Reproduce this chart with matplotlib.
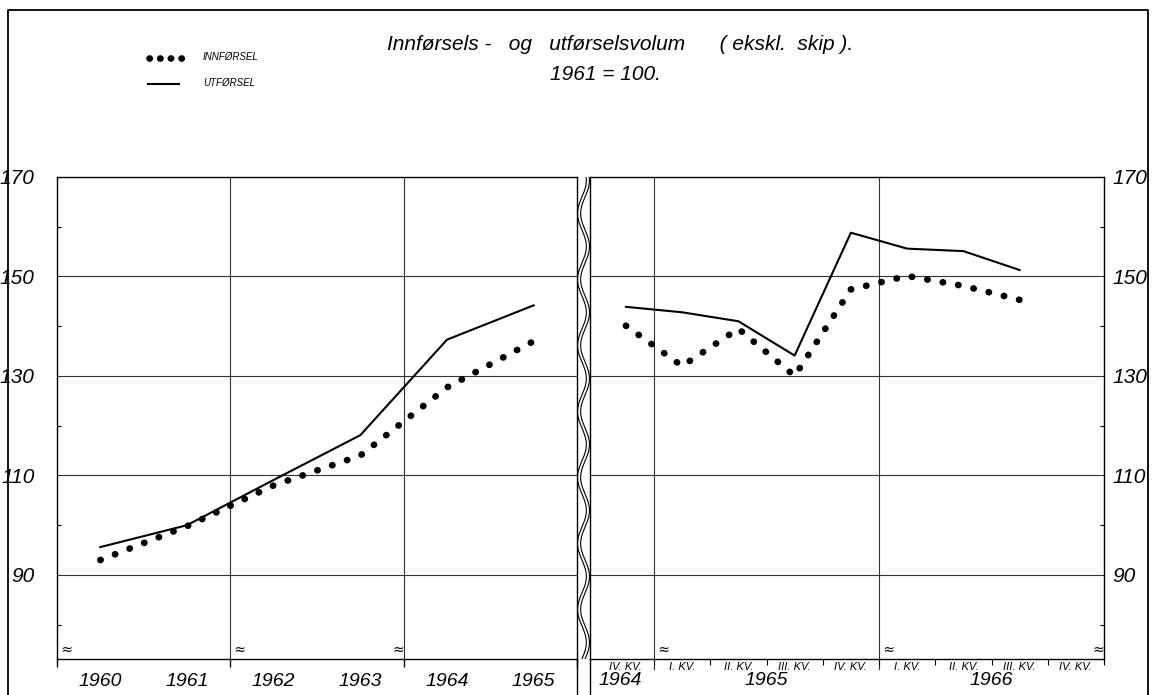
import numpy as np
import matplotlib
matplotlib.use("Agg")
import matplotlib.pyplot as plt
from matplotlib.lines import Line2D

# --- data (volum-indeks, 1961 = 100) ---
aar = [1960, 1961, 1962, 1963, 1964, 1965]
innforsel_aar = [93.0, 99.8, 108.0, 114.0, 127.7, 137.0]
utforsel_aar = [95.6, 100.0, 109.1, 118.1, 137.3, 144.2]

kvartal_labels = ["IV. KV.", "I. KV.", "II. KV.", "III. KV.", "IV. KV.",
                  "I. KV.", "II. KV.", "III. KV.", "IV. KV."]
kvartal_aar = ["1964", "1965", "1966"]
innforsel_kv = [140.1, 132.0, 139.5, 130.0, 147.4, 150.1, 148.1, 145.3]
utforsel_kv = [143.9, 142.8, 141.0, 134.1, 158.8, 155.6, 155.1, 151.3]

y_ticks = [90, 110, 130, 150, 170]

W, H = 1153, 695
FONT = "Liberation Sans"


def fx(px):
    return px / W


def fy(py):
    return 1 - py / H


fig = plt.figure(figsize=(W / 100, H / 100), dpi=100)
fig.patch.set_facecolor("white")

top, bot = 177, 659
ylim = (73.1, 170)
ax1 = fig.add_axes([fx(57), fy(bot), fx(577) - fx(57), fy(top) - fy(bot)])
ax2 = fig.add_axes([fx(590), fy(bot), fx(1104) - fx(590), fy(top) - fy(bot)])
axb = fig.add_axes([fx(577), fy(bot), fx(590) - fx(577), fy(top) - fy(bot)])

# prikket linje: korte streker med runde ender blir til prikker
dot_style = dict(color="black", lw=4.8, linestyle=(0, (0.05, 2.3)),
                 dash_capstyle="round")
line_style = dict(color="black", lw=1.5)
grid_style = dict(color="#333333", lw=0.8, zorder=0)

for ax in (ax1, ax2):
    ax.set_ylim(*ylim)
    for s in ax.spines.values():
        s.set_linewidth(1.0)
    for v in [90, 110, 130, 150]:
        ax.axhline(v, **grid_style)
    ax.set_yticks(y_ticks)
    ax.set_yticks([80, 100, 120, 140, 160], minor=True)

# --- left panel: yearly ---
ax1.set_xlim(1959.5, 1965.5)
for v in [1961.5, 1963.5]:
    ax1.axvline(v, **grid_style)
ax1.plot(aar, utforsel_aar, **line_style)
ax1.plot(aar, innforsel_aar, **dot_style)
ax1.set_xticks(aar)
ax1.set_xticklabels([str(a) for a in aar], fontsize=14, style="italic", family=FONT)
ax1.set_xticks([1959.5, 1961.5, 1963.5, 1965.5], minor=True)
ax1.tick_params(axis="x", which="major", length=0, pad=10)
ax1.tick_params(axis="x", which="minor", length=6, direction="out", width=1)
ax1.set_yticklabels([str(v) for v in y_ticks], fontsize=15, style="italic", family=FONT)
ax1.tick_params(axis="y", which="major", length=0, pad=16)
ax1.tick_params(axis="y", which="minor", length=3, direction="in", width=0.8)
for xv, ha in [(1959.5, "left"), (1961.5, "left"), (1963.5, "right")]:
    ax1.text(xv, 74.9, " \u2248 " if ha == "left" else "\u2248", ha=ha, va="center",
             fontsize=10)

# --- right panel: quarterly ---
q = np.arange(len(innforsel_kv))
ax2.set_xlim(-0.638, 8.5)
for v in [0.5, 4.5]:
    ax2.axvline(v, ymin=-0.02, ymax=1, clip_on=False, **grid_style)
ax2.plot(q, utforsel_kv, **line_style)
ax2.plot(q, innforsel_kv, **dot_style)
ax2.set_xticks(np.arange(len(kvartal_labels)))
ax2.set_xticklabels(kvartal_labels, fontsize=8, style="italic", family=FONT)
ax2.set_xticks(np.arange(0.5, 9, 1.0), minor=True)
ax2.tick_params(axis="x", which="major", length=0, pad=2)
ax2.tick_params(axis="x", which="minor", length=4, direction="out", width=0.8)
ax2.yaxis.tick_right()
ax2.set_yticklabels([str(v) for v in y_ticks], fontsize=15, style="italic", family=FONT)
ax2.tick_params(axis="y", which="major", length=0, pad=6)
ax2.tick_params(axis="y", which="minor", length=3, direction="in", width=0.8,
                right=True, left=False)
for xv, lab in zip([-0.1, 2.5, 6.5], kvartal_aar):
    ax2.text(xv, -0.045, lab, transform=ax2.get_xaxis_transform(), ha="center",
             va="center", fontsize=14, style="italic", family=FONT)
for xv, ha in [(0.5, "left"), (4.5, "left"), (8.5, "right")]:
    ax2.text(xv, 74.9, " \u2248 " if ha == "left" else "\u2248", ha=ha, va="center",
             fontsize=10)

# --- wavy break between panels ---
axb.set_xlim(0, 1)
axb.set_ylim(0, bot - top)
axb.axis("off")
yy = np.linspace(0, bot - top, 600)
wave = 0.5 + 0.34 * np.sin(2 * np.pi * yy / 66.0)
axb.plot(wave - 0.12, yy, color="black", lw=0.8)
axb.plot(wave + 0.12, yy, color="black", lw=0.8)
for px in (577, 590):
    fig.add_artist(Line2D([fx(px), fx(px)], [fy(bot), 0], color="black", lw=1.0))

# --- outer frame ---
fig.add_artist(Line2D([fx(8), fx(8), fx(1148), fx(1148)], [0, fy(10), fy(10), 0],
                      color="black", lw=1.3))

# --- title ---
fig.text(fx(620), fy(44), "Innførsels -   og   utførselsvolum      ( ekskl.  skip ).",
         ha="center", va="center", fontsize=15, style="italic", family=FONT)
fig.text(fx(605), fy(75), "1961 = 100.", ha="center", va="center", fontsize=15,
         style="italic", family=FONT)

# --- legend ---
fig.add_artist(Line2D([fx(149), fx(183)], [fy(58), fy(58)], color="black", lw=4.8,
                      linestyle=(0, (0.05, 1.55)), dash_capstyle="round"))
fig.add_artist(Line2D([fx(148), fx(179)], [fy(84), fy(84)], **line_style))
fig.text(fx(203), fy(57), "INNFØRSEL", ha="left", va="center", fontsize=7,
         style="italic", family=FONT)
fig.text(fx(203), fy(83), "UTFØRSEL", ha="left", va="center", fontsize=7,
         style="italic", family=FONT)

fig.savefig("out.png", dpi=100)
